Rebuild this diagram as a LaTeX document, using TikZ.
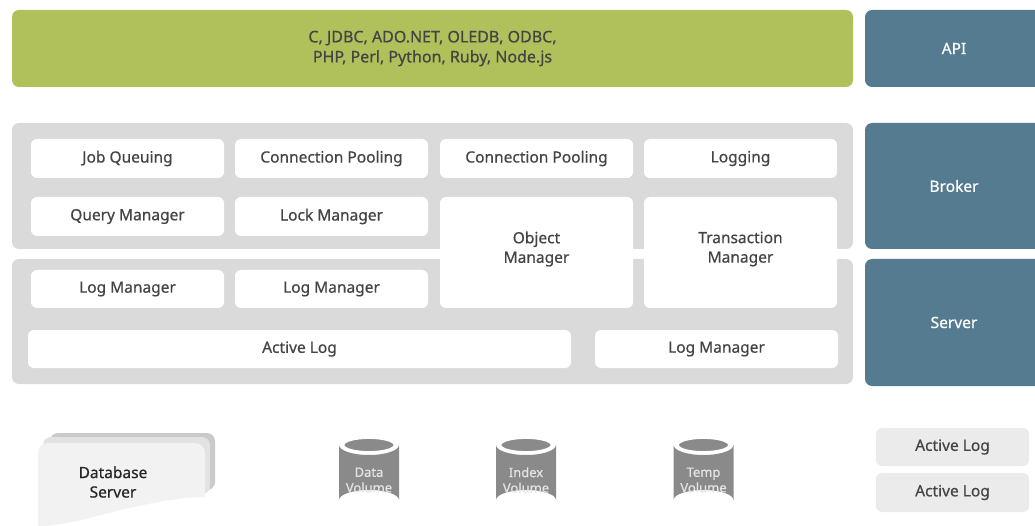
\documentclass[tikz,border=0pt]{standalone}
\usepackage{fontspec}
\setmainfont{Noto Sans}[FakeBold=0.6]
\begin{document}
\begin{tikzpicture}[x=1pt,y=-1pt,
  panel/.style={fill=panelgray, draw=none, rounded corners=7pt},
  wbox/.style={fill=white, draw=none, rounded corners=6pt, inner sep=0pt, text=txtgray, font=\fontsize{15.5}{19.5}\selectfont, align=center},
  bluebox/.style={fill=apiblue, draw=none, rounded corners=7pt, inner sep=0pt, text=white, font=\fontsize{15.5}{19.5}\selectfont},
  greenbox/.style={fill=apigreen, draw=none, rounded corners=7pt, inner sep=0pt, text=txtgray, font=\fontsize{16}{20}\selectfont, align=center},
  logbox/.style={fill=lightgray2, draw=none, rounded corners=6pt, inner sep=0pt, text=txtgray, font=\fontsize{15.5}{19.5}\selectfont},
  cyltext/.style={text=cyltxt, font=\fontsize{13}{15.5}\selectfont, align=center, inner sep=0pt},
]
\definecolor{panelgray}{HTML}{DADADA}
\definecolor{txtgray}{HTML}{444444}
\definecolor{apiblue}{HTML}{557B91}
\definecolor{apigreen}{HTML}{B0C15B}
\definecolor{lightgray2}{HTML}{EBEBEB}
\definecolor{cylgray}{HTML}{8A8A8A}
\definecolor{cyltxt}{HTML}{E4E4E4}
\definecolor{doc1}{HTML}{F2F2F2}
\definecolor{doc2}{HTML}{E2E2E2}
\definecolor{doc3}{HTML}{CACACA}
\newcommand\bx[7]{\node[#6, minimum width={(#4-#2)*1pt}, minimum height={(#5-#3)*1pt}] (#1) at ({(#2+#4)/2},{(#3+#5)/2}) {#7};}
\useasboundingbox (0,0) rectangle (1035,526);
\clip (0,0) rectangle (1035,526);
% top row
\bx{lang}{12}{10}{853}{87}{greenbox}{C, JDBC, ADO.NET, OLEDB, ODBC,\\PHP, Perl, Python, Ruby, Node.js}
\bx{api}{865}{10}{1043}{87}{bluebox}{API}
% panels
\bx{brokerpanel}{12}{123}{853}{249}{panel}{}
\bx{serverpanel}{12}{259}{853}{384}{panel}{}
\bx{broker}{865}{123}{1043}{249}{bluebox}{Broker}
\bx{server}{865}{259}{1043}{386}{bluebox}{Server}
% broker boxes
\bx{jq}{31}{139}{224}{178}{wbox}{Job Queuing}
\bx{cp1}{235}{139}{428}{178}{wbox}{Connection Pooling}
\bx{cp2}{440}{139}{633}{178}{wbox}{Connection Pooling}
\bx{logging}{644}{139}{837}{178}{wbox}{Logging}
\bx{qm}{31}{197}{224}{236}{wbox}{Query Manager}
\bx{lm}{235}{197}{428}{236}{wbox}{Lock Manager}
\bx{om}{440}{197}{633}{308}{wbox}{}
\bx{tm}{644}{197}{837}{308}{wbox}{}
\node[text=txtgray, font=\fontsize{15.5}{19.5}\selectfont, align=center] (omt) at (536.5,249) {Object\\Manager};
\node[text=txtgray, font=\fontsize{15.5}{19.5}\selectfont, align=center] (tmt) at (740.5,249) {Transaction\\Manager};
% server boxes
\bx{logm1}{31}{270}{224}{308}{wbox}{Log Manager}
\bx{logm2}{235}{270}{428}{308}{wbox}{Log Manager}
\bx{alog}{28}{330}{571}{368}{wbox}{Active Log}
\bx{logm3}{595}{330}{838}{368}{wbox}{Log Manager}
% database server document
\fill[doc3, rounded corners=8pt] (50,433) rectangle (215,490);
\fill[doc2, rounded corners=8pt] (43,437) rectangle (210,494);
\fill[doc1] (38,530) -- (38,455) [rounded corners=10pt] -- (38,443) -- (205,443) [sharp corners] -- (205,497)
  .. controls (170,497) and (120,510) .. (90,518) .. controls (70,523) and (50,526) .. (38,527) -- cycle;
\node[text=black!85, font=\fontsize{15.5}{19.5}\selectfont, align=center] (dbs) at (113,482) {Database\\Server};
% cylinders
\foreach \nm/\cx/\lab in {dv/369/{Data\\Volume}, iv/526/{Index\\Volume}, tv/703.5/{Temp\\Volume}}{
  \fill[cylgray] (\cx-30,445) -- (\cx-30,500) arc[start angle=180, end angle=360, x radius=30, y radius=10] -- (\cx+30,445) arc[start angle=0, end angle=180, x radius=30, y radius=10] -- cycle;
  \draw[white, line width=1.8pt, fill=cylgray] (\cx,445) ellipse[x radius=25.5, y radius=7];
  \node[cyltext] (\nm) at (\cx,480) {\lab};
}
% active log boxes
\bx{al1}{876}{428}{1029}{466}{logbox}{Active Log}
\bx{al2}{876}{473}{1029}{512}{logbox}{Active Log}
\end{tikzpicture}
\end{document}
